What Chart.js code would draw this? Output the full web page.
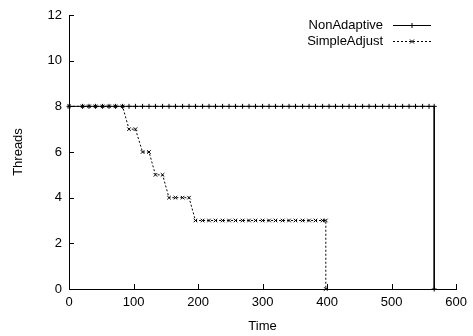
<!DOCTYPE html>
<html>
<head>
<meta charset="utf-8">
<script src="https://cdn.jsdelivr.net/npm/chart.js@4/dist/chart.umd.min.js"></script>
<style>
  html, body { margin: 0; padding: 0; background: #fff; }
  #wrap { width: 473px; height: 336px; }
</style>
</head>
<body>
<div id="wrap"><canvas id="threadsChart"></canvas></div>
<script>
// series data
const naTime = [0,21,31,41,52,62,72,83,93,103,114,124,134,145,155,165,176,186,196,207,217,227,238,248,258,269,279,289,300,310,320,331,341,351,362,372,382,393,403,413,424,434,444,455,465,475,486,496,506,517,527,537,548,558,566,566];
const naThreads = [8,8,8,8,8,8,8,8,8,8,8,8,8,8,8,8,8,8,8,8,8,8,8,8,8,8,8,8,8,8,8,8,8,8,8,8,8,8,8,8,8,8,8,8,8,8,8,8,8,8,8,8,8,8,8,0];

const saTime = [0,21,31,41,52,62,72,83,93,103,114,124,134,145,155,165,176,186,196,207,217,227,238,248,258,269,279,289,300,310,320,331,341,351,362,372,382,393,398,398];
const saThreads = [8,8,8,8,8,8,8,8,7,7,6,6,5,5,4,4,4,4,3,3,3,3,3,3,3,3,3,3,3,3,3,3,3,3,3,3,3,3,3,0];

const xTicks = [0,100,200,300,400,500,600];
const yTicks = [0,2,4,6,8,10,12];
const seriesNames = ['NonAdaptive', 'SimpleAdjust'];

const FONT = 'Liberation Sans, Arial, Helvetica, sans-serif';

function toPoints(xs, ys) {
  return xs.map((x, i) => ({ x: x, y: ys[i] }));
}

// gnuplot-like inward ticks
const innerTicks = {
  id: 'innerTicks',
  afterDraw(chart) {
    const ctx = chart.ctx;
    const xs = chart.scales.x, ys = chart.scales.y;
    const area = chart.chartArea;
    ctx.save();
    ctx.strokeStyle = '#000';
    ctx.lineWidth = 1;
    ctx.beginPath();
    xTicks.forEach(v => {
      const px = Math.round(xs.getPixelForValue(v)) + 0.5;
      ctx.moveTo(px, area.bottom);
      ctx.lineTo(px, area.bottom - 5);
    });
    yTicks.forEach(v => {
      const py = Math.round(ys.getPixelForValue(v)) + 0.5;
      ctx.moveTo(area.left, py);
      ctx.lineTo(area.left + 5, py);
    });
    ctx.stroke();
    ctx.restore();
  }
};

// legend drawn like gnuplot: text then sample line
const keyBox = {
  id: 'keyBox',
  afterDraw(chart) {
    const ctx = chart.ctx;
    ctx.save();
    ctx.font = '13px ' + FONT;
    ctx.fillStyle = '#000';
    ctx.textAlign = 'right';
    ctx.textBaseline = 'middle';
    const rows = [25, 41];
    seriesNames.forEach((name, i) => {
      const y = rows[i] + 0.5;
      ctx.fillText(name, 383, rows[i]);
      ctx.strokeStyle = '#000';
      ctx.lineWidth = 1;
      ctx.setLineDash(i === 0 ? [] : [2, 2]);
      ctx.beginPath();
      ctx.moveTo(393, y);
      ctx.lineTo(431, y);
      ctx.stroke();
      ctx.setLineDash([]);
      ctx.beginPath();
      if (i === 0) {
        ctx.moveTo(409.5, y); ctx.lineTo(414.5, y);
        ctx.moveTo(412, y - 2.5); ctx.lineTo(412, y + 2.5);
      } else {
        ctx.moveTo(410, y - 2); ctx.lineTo(414, y + 2);
        ctx.moveTo(410, y + 2); ctx.lineTo(414, y - 2);
      }
      ctx.stroke();
    });
    ctx.restore();
  }
};

new Chart(document.getElementById('threadsChart'), {
  type: 'scatter',
  data: {
    datasets: [
      {
        label: seriesNames[0],
        data: toPoints(naTime, naThreads),
        showLine: true,
        borderColor: '#000',
        borderWidth: 1,
        pointStyle: 'cross',
        pointRadius: 2.5,
        pointBorderColor: '#000',
        pointBorderWidth: 1,
        pointBackgroundColor: '#000',
        clip: false
      },
      {
        label: seriesNames[1],
        data: toPoints(saTime, saThreads),
        showLine: true,
        borderColor: '#000',
        borderWidth: 1,
        borderDash: [2, 2],
        pointStyle: 'crossRot',
        pointRadius: 2.5,
        pointBorderColor: '#000',
        pointBorderWidth: 1,
        pointBackgroundColor: '#000',
        clip: false
      }
    ]
  },
  options: {
    responsive: true,
    maintainAspectRatio: false,
    animation: false,
    events: [],
    layout: { padding: { left: 11, right: 15, top: 15, bottom: 2 } },
    plugins: {
      legend: { display: false },
      tooltip: { enabled: false }
    },
    scales: {
      x: {
        type: 'linear',
        min: 0,
        max: 600,
        afterBuildTicks: s => { s.ticks = xTicks.map(v => ({ value: v })); },
        afterFit: s => { s.height = 45; },
        grid: { display: false, drawTicks: false },
        border: { display: true, color: '#000', width: 1 },
        ticks: { color: '#000', font: { family: FONT, size: 13 }, padding: 6, maxRotation: 0 },
        title: { display: true, text: 'Time', color: '#000', font: { family: FONT, size: 13 }, padding: { top: 0, bottom: 0 } }
      },
      y: {
        type: 'linear',
        min: 0,
        max: 12,
        afterBuildTicks: s => { s.ticks = yTicks.map(v => ({ value: v })); },
        afterFit: s => { s.width = 58; },
        grid: { display: false, drawTicks: false },
        border: { display: true, color: '#000', width: 1 },
        ticks: { color: '#000', font: { family: FONT, size: 13 }, padding: 7 },
        title: { display: true, text: 'Threads', color: '#000', font: { family: FONT, size: 13 }, padding: { top: 0, bottom: 0 } }
      }
    }
  },
  plugins: [innerTicks, keyBox]
});
</script>
</body>
</html>
